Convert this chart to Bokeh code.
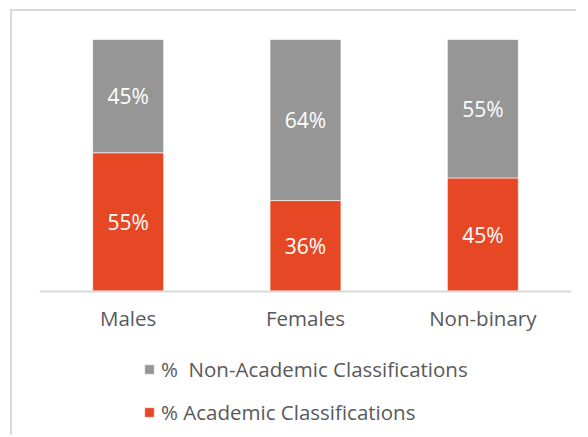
from bokeh.plotting import figure
from bokeh.models import ColumnDataSource, Legend, LegendItem, LabelSet, Range1d
from bokeh.core.properties import value
from bokeh.embed import file_html
from bokeh.resources import INLINE

categories = ["Males", "Females", "Non-binary"]
academic = [55, 36, 45]
non_academic = [45, 64, 55]
series_names = ["%  Non-Academic Classifications", "% Academic Classifications"]

RED = "#E64826"
GRAY = "#969696"
FONT = "Open Sans"

src = ColumnDataSource(dict(
    cat=categories,
    acad=academic,
    nonacad=non_academic,
    acad_mid=[a / 2 for a in academic],
    non_mid=[a + n / 2 for a, n in zip(academic, non_academic)],
    acad_lbl=[f"{a}%" for a in academic],
    non_lbl=[f"{n}%" for n in non_academic],
))

# frame: 532 px wide, 398 px tall; 100% spans 251.7 px
FRAME_H = 398
PX_PER_100 = 251.7
y_start = -(FRAME_H - PX_PER_100) / PX_PER_100 * 100

p = figure(x_range=categories, y_range=Range1d(y_start, 100), width=566, height=426,
           output_backend="svg", toolbar_location=None,
           min_border_left=27, min_border_right=7, min_border_top=28, min_border_bottom=0)

stack = p.vbar_stack(["acad", "nonacad"], x="cat", width=0.4, source=src,
                     color=[RED, GRAY], line_color="white", line_width=0.6)

for col_y, col_t in [("acad_mid", "acad_lbl"), ("non_mid", "non_lbl")]:
    p.add_layout(LabelSet(x="cat", y=col_y, text=col_t, source=src,
                          text_align="center", text_baseline="middle",
                          text_color="white", text_font=value(FONT), text_font_size="21px"))

p.yaxis.visible = False
p.xgrid.visible = False
p.ygrid.visible = False
p.outline_line_color = None
p.xaxis.fixed_location = 0
p.xaxis.axis_line_color = "#d9d9d9"
p.xaxis.axis_line_width = 2
p.xaxis.major_tick_line_color = None
p.xaxis.minor_tick_line_color = None
p.xaxis.major_label_text_font = FONT
p.xaxis.major_label_text_font_size = "20.5px"
p.xaxis.major_label_text_color = "#595959"
p.xaxis.major_label_standoff = 7
p.x_range.range_padding = 0

legend = Legend(items=[LegendItem(label=series_names[0], renderers=[stack[1]]),
                       LegendItem(label=series_names[1], renderers=[stack[0]])],
                location=(104, 11), orientation="vertical",
                label_text_font=FONT, label_text_font_size="20.5px",
                label_text_color="#595959", glyph_width=12, glyph_height=12,
                label_height=12, label_standoff=6, spacing=15, border_line_color=None,
                background_fill_alpha=0, margin=0, padding=2)
p.add_layout(legend, "center")

p.styles = {"margin-left": "10px", "margin-top": "9px",
            "border-left": "2px solid #d9d9d9", "border-top": "2px solid #d9d9d9"}

open("out.html", "w").write(file_html(p, INLINE))
